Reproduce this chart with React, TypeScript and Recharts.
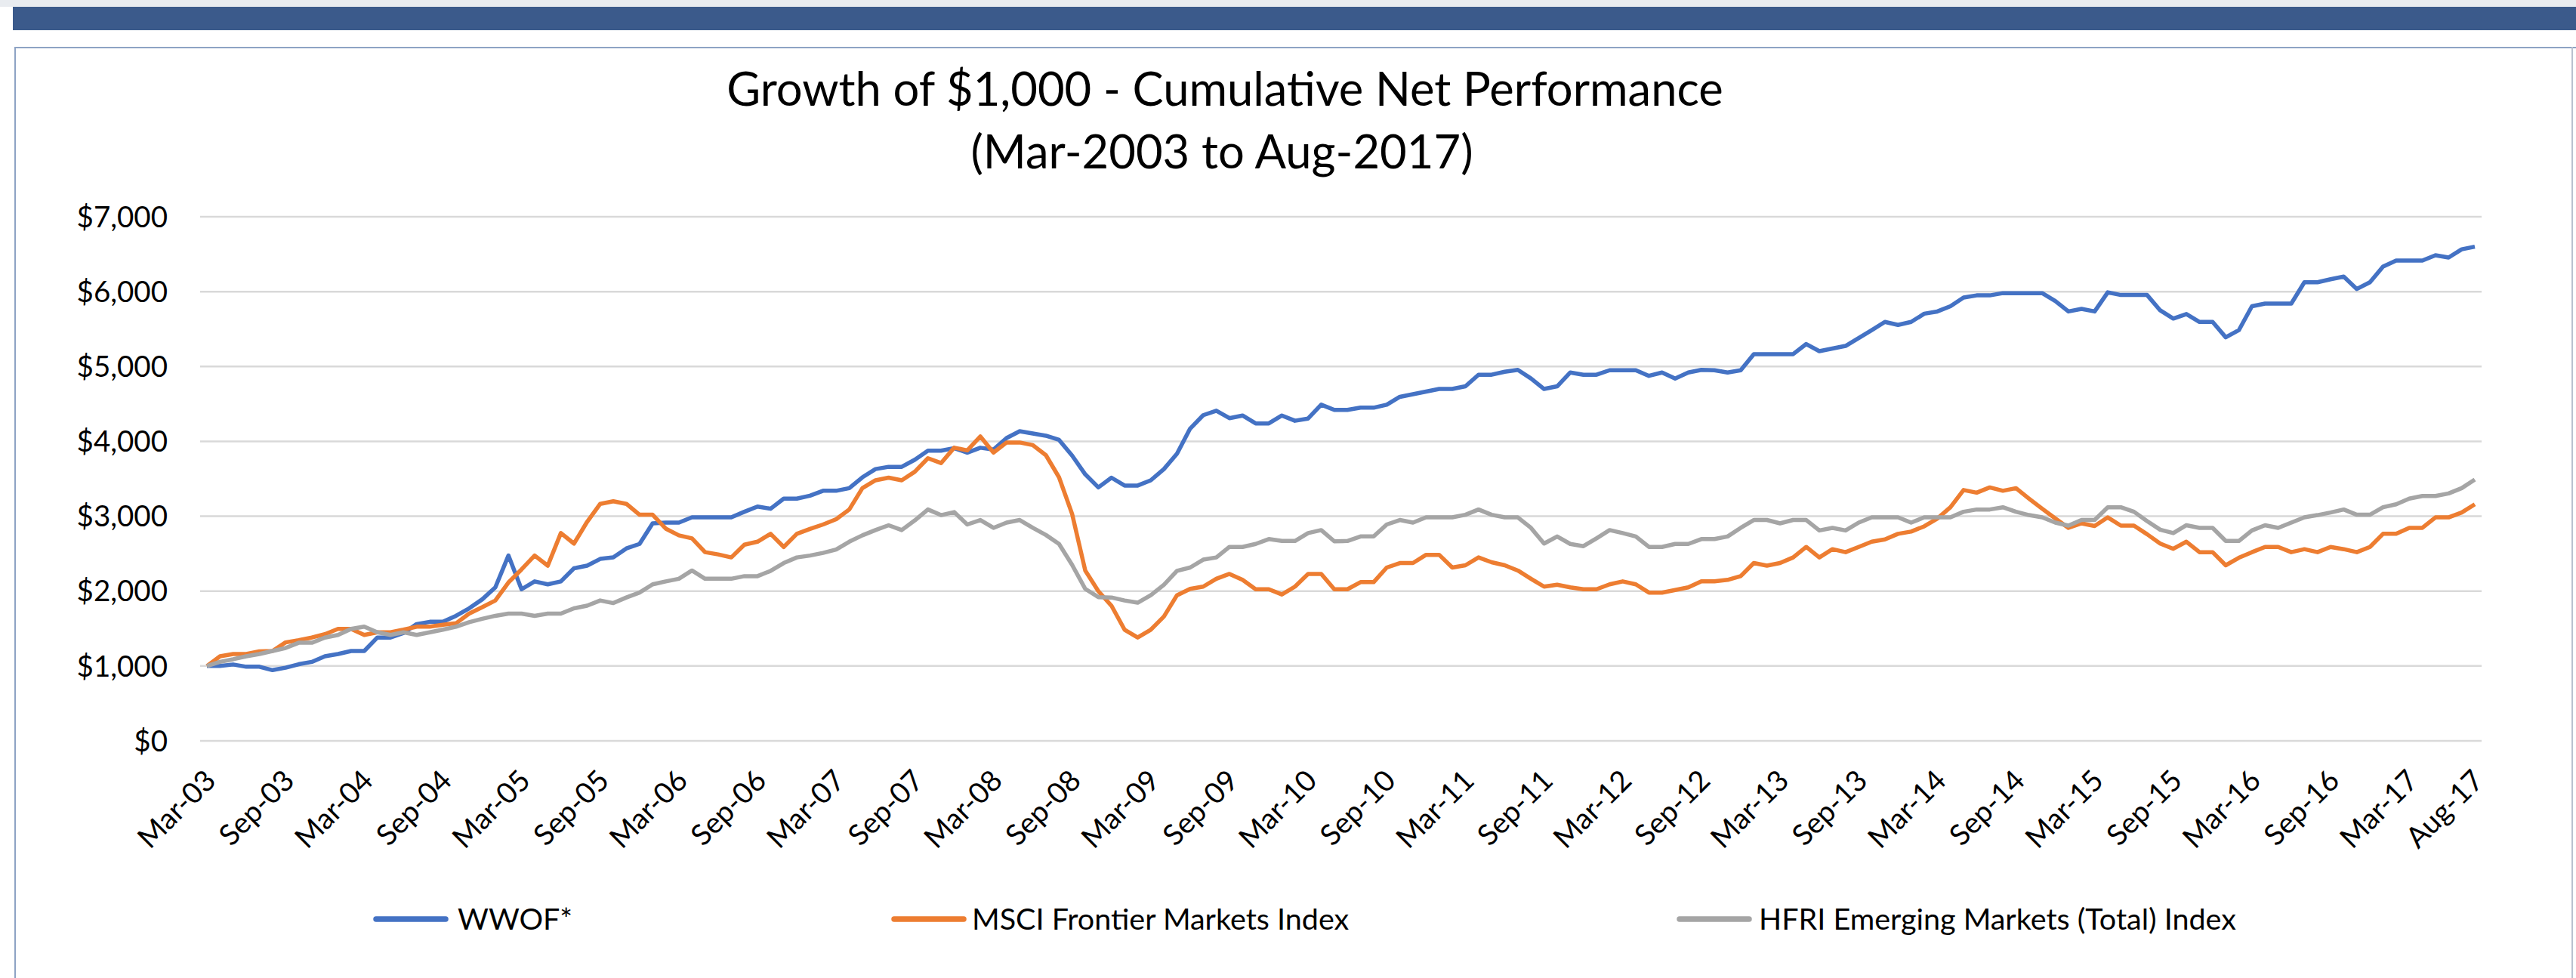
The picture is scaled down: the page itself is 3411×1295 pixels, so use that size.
import React from 'react'
import { LineChart, Line, XAxis, YAxis, CartesianGrid, Legend } from 'recharts'

const MONTH_NAMES = ['Jan', 'Feb', 'Mar', 'Apr', 'May', 'Jun', 'Jul', 'Aug', 'Sep', 'Oct', 'Nov', 'Dec']

// Mar-03 .. Aug-17, one entry per month
const months: string[] = []
for (let y = 2003; y <= 2017; y++) {
  for (let m = 0; m < 12; m++) {
    if (y === 2003 && m < 2) continue
    if (y === 2017 && m > 7) continue
    months.push(`${MONTH_NAMES[m]}-${String(y).slice(2)}`)
  }
}

const tickLabels = [
  'Mar-03', 'Sep-03', 'Mar-04', 'Sep-04', 'Mar-05', 'Sep-05', 'Mar-06', 'Sep-06', 'Mar-07', 'Sep-07',
  'Mar-08', 'Sep-08', 'Mar-09', 'Sep-09', 'Mar-10', 'Sep-10', 'Mar-11', 'Sep-11', 'Mar-12', 'Sep-12',
  'Mar-13', 'Sep-13', 'Mar-14', 'Sep-14', 'Mar-15', 'Sep-15', 'Mar-16', 'Sep-16', 'Mar-17', 'Aug-17',
]

const yTicks = [0, 1000, 2000, 3000, 4000, 5000, 6000, 7000]

const wwof = [
  1000, 1000, 1020, 990, 990, 945, 977, 1023, 1055, 1130,
  1160, 1200, 1200, 1380, 1380, 1440, 1560, 1590, 1590, 1670,
  1770, 1890, 2050, 2475, 2025, 2130, 2090, 2130, 2305, 2340,
  2430, 2450, 2570, 2630, 2905, 2915, 2915, 2985, 2985, 2985,
  2985, 3060, 3130, 3100, 3235, 3235, 3275, 3340, 3340, 3375,
  3520, 3630, 3660, 3660, 3755, 3875, 3875, 3910, 3850, 3915,
  3890, 4045, 4135, 4105, 4075, 4020, 3810, 3560, 3385, 3515,
  3410, 3410, 3480, 3630, 3835, 4170, 4350, 4410, 4310, 4345,
  4240, 4240, 4345, 4275, 4305, 4490, 4420, 4420, 4450, 4450,
  4490, 4595, 4630, 4665, 4700, 4700, 4735, 4890, 4890, 4930,
  4955, 4840, 4700, 4735, 4920, 4890, 4890, 4950, 4950, 4950,
  4875, 4920, 4840, 4920, 4955, 4950, 4920, 4950, 5165, 5165,
  5165, 5165, 5300, 5205, 5240, 5275, 5380, 5485, 5595, 5555,
  5595, 5705, 5735, 5805, 5920, 5950, 5950, 5980, 5980, 5980,
  5980, 5875, 5735, 5770, 5735, 5990, 5955, 5955, 5955, 5750,
  5640, 5700, 5595, 5595, 5390, 5485, 5805, 5840, 5840, 5840,
  6125, 6125, 6165, 6200, 6035, 6125, 6335, 6415, 6415, 6415,
  6485, 6455, 6565, 6600,
]

const msci = [
  1000, 1130, 1160, 1160, 1195, 1200, 1315, 1345, 1380, 1425,
  1495, 1495, 1415, 1450, 1450, 1485, 1525, 1525, 1550, 1570,
  1700, 1785, 1875, 2115, 2290, 2475, 2340, 2775, 2635, 2925,
  3165, 3200, 3165, 3020, 3020, 2835, 2745, 2705, 2520, 2490,
  2450, 2620, 2660, 2765, 2590, 2765, 2830, 2890, 2960, 3090,
  3375, 3480, 3515, 3480, 3595, 3775, 3710, 3915, 3880, 4065,
  3850, 3985, 3985, 3950, 3815, 3520, 3030, 2275, 2000, 1805,
  1485, 1380, 1485, 1660, 1945, 2030, 2060, 2165, 2230, 2150,
  2025, 2025, 1955, 2060, 2230, 2230, 2025, 2025, 2120, 2120,
  2315, 2375, 2375, 2485, 2485, 2315, 2345, 2450, 2385, 2345,
  2275, 2165, 2060, 2085, 2050, 2025, 2025, 2090, 2130, 2090,
  1980, 1980, 2015, 2050, 2130, 2130, 2150, 2200, 2375, 2340,
  2375, 2450, 2590, 2450, 2560, 2520, 2590, 2660, 2690, 2765,
  2795, 2865, 2970, 3120, 3350, 3315, 3385, 3340, 3375, 3235,
  3100, 2970, 2845, 2905, 2870, 2985, 2875, 2875, 2760, 2635,
  2565, 2660, 2520, 2520, 2345, 2445, 2520, 2590, 2590, 2520,
  2560, 2520, 2590, 2560, 2520, 2590, 2765, 2765, 2845, 2845,
  2985, 2985, 3050, 3160,
]

const hfri = [
  1000, 1055, 1090, 1130, 1160, 1200, 1240, 1310, 1310, 1380,
  1415, 1495, 1525, 1450, 1415, 1450, 1415, 1450, 1485, 1525,
  1585, 1630, 1670, 1700, 1700, 1670, 1700, 1700, 1770, 1805,
  1875, 1840, 1915, 1980, 2090, 2130, 2165, 2275, 2165, 2165,
  2165, 2200, 2200, 2270, 2375, 2450, 2475, 2510, 2555, 2660,
  2745, 2815, 2880, 2815, 2945, 3090, 3015, 3055, 2890, 2950,
  2845, 2915, 2950, 2845, 2750, 2630, 2350, 2030, 1920, 1915,
  1875, 1845, 1945, 2085, 2270, 2315, 2420, 2450, 2590, 2590,
  2630, 2695, 2670, 2670, 2775, 2815, 2665, 2670, 2730, 2730,
  2890, 2950, 2915, 2985, 2985, 2985, 3020, 3090, 3020, 2985,
  2985, 2845, 2635, 2730, 2630, 2600, 2705, 2815, 2775, 2730,
  2590, 2590, 2630, 2630, 2695, 2695, 2730, 2845, 2950, 2950,
  2905, 2950, 2950, 2810, 2845, 2810, 2915, 2985, 2985, 2985,
  2915, 2985, 2985, 2985, 3060, 3090, 3090, 3120, 3060, 3015,
  2985, 2915, 2875, 2950, 2950, 3120, 3120, 3060, 2935, 2820,
  2775, 2880, 2845, 2845, 2670, 2670, 2810, 2880, 2845, 2915,
  2985, 3015, 3050, 3090, 3020, 3020, 3120, 3160, 3235, 3270,
  3270, 3305, 3375, 3490,
]

const data = months.map((month, i) => ({ month, wwof: wwof[i], msci: msci[i], hfri: hfri[i] }))

const series = [
  { key: 'wwof', name: 'WWOF*', color: '#4472C4', swatchX: 498, textX: 606 },
  { key: 'msci', name: 'MSCI Frontier Markets Index', color: '#ED7D31', swatchX: 1184, textX: 1287 },
  { key: 'hfri', name: 'HFRI Emerging Markets (Total) Index', color: '#A5A5A5', swatchX: 2224, textX: 2329 },
]

const FONT = 'Lato, "Open Sans", sans-serif'

const MonthTick = ({ x, y, payload }: any) => {
  if (!tickLabels.includes(payload.value)) return <g />
  return (
    <text
      x={0}
      y={0}
      transform={`translate(${x + 14},${y + 47}) rotate(-45)`}
      textAnchor="end"
      fill="#000"
      fontSize={38.5}
      fontFamily={FONT}
    >
      {payload.value}
    </text>
  )
}

const renderLegend = () => (
  <svg width={3411} height={80}>
    {series.map((s) => (
      <g key={s.key}>
        <line x1={s.swatchX} x2={s.swatchX + 92} y1={27} y2={27} stroke={s.color} strokeWidth={7.5} strokeLinecap="round" />
        <text x={s.textX} y={41} fontSize={39.5} fontFamily={FONT} fill="#000">
          {s.name}
        </text>
      </g>
    ))}
  </svg>
)

export default function App() {
  return (
    <div style={{ position: 'absolute', left: 0, top: 0, width: 3411, height: 1295, background: '#fff', overflow: 'hidden' }}>
      {/* header band + chart frame */}
      <div style={{ position: 'absolute', left: 0, top: 0, width: 3411, height: 9, background: '#E9ECF0' }} />
      <div style={{ position: 'absolute', left: 17, top: 9, width: 3394, height: 31, background: '#3B5A8B' }} />
      <div style={{ position: 'absolute', left: 19, top: 62, width: 3392, height: 2, background: '#8EA3C4' }} />
      <div style={{ position: 'absolute', left: 19, top: 62, width: 2, height: 1233, background: '#8EA3C4' }} />
      <div style={{ position: 'absolute', left: 3405, top: 62, width: 2, height: 1233, background: '#B8C2D0' }} />

      <div style={{ position: 'absolute', left: 0, top: 0 }}>
        <LineChart width={3411} height={1295} data={data} margin={{ top: 287, right: 125, bottom: 114, left: 0 }}>
          <CartesianGrid horizontal vertical={false} stroke="#D9D9D9" strokeWidth={2.5} />
          <XAxis
            dataKey="month"
            interval={0}
            tick={MonthTick}
            tickLine={false}
            axisLine={false}
            padding={{ left: 9, right: 9 }}
            height={200}
          />
          <YAxis
            domain={[0, 7000]}
            ticks={yTicks}
            tickFormatter={(v: number) => `$${v.toLocaleString('en-US')}`}
            tick={{ fill: '#000', fontSize: 38.5, fontFamily: FONT }}
            axisLine={false}
            tickLine={false}
            tickMargin={37}
            width={265}
          />
          <Legend
            layout="horizontal"
            verticalAlign="middle"
            align="center"
            content={renderLegend}
            wrapperStyle={{ left: 0, top: 1190, width: 3411, height: 80 }}
          />
          {series.map((s) => (
            <Line
              key={s.key}
              type="linear"
              dataKey={s.key}
              name={s.name}
              stroke={s.color}
              strokeWidth={5.5}
              strokeLinejoin="round"
              dot={false}
              activeDot={false}
              isAnimationActive={false}
            />
          ))}
        </LineChart>
      </div>

      <svg width={3411} height={260} style={{ position: 'absolute', left: 0, top: 0, pointerEvents: 'none' }}>
        <text x={1622} y={140} textAnchor="middle" fontSize={61.5} fontFamily={FONT} fill="#000">
          Growth of $1,000 - Cumulative Net Performance
        </text>
        <text x={1618} y={223} textAnchor="middle" fontSize={61.5} fontFamily={FONT} fill="#000">
          (Mar-2003 to Aug-2017)
        </text>
      </svg>
    </div>
  )
}
